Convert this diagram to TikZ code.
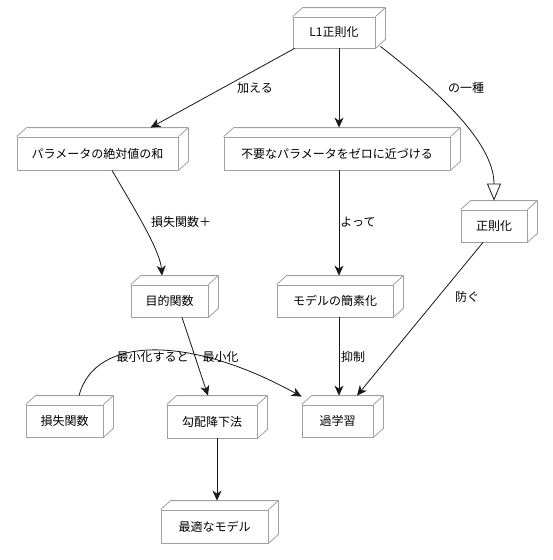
\documentclass[tikz,border=0pt]{standalone}
\usepackage{fontspec}
\setmainfont{Noto Sans CJK JP}
\usetikzlibrary{arrows.meta,calc}
\definecolor{boxgray}{HTML}{A0A0A0}
\definecolor{linec}{HTML}{181818}
\begin{document}
\begin{tikzpicture}[x=1pt,y=-1pt,
  box/.style={draw=boxgray, fill=white, line width=0.8pt, inner sep=0pt, font=\fontsize{12}{14}\selectfont, text=black},
  arr/.style={draw=linec, line width=0.8pt, -{Stealth[length=10pt,width=9pt,inset=3pt]}},
  gen/.style={draw=linec, line width=0.8pt, -{Triangle[open,length=17pt,width=14pt,fill=white]}},
  lbl/.style={font=\fontsize{12}{14}\selectfont, inner sep=1pt, text=black},
  back/.style={draw=boxgray, line width=0.8pt, line join=round}]
\useasboundingbox[fill=white] (0,0) rectangle (552,560);

\node[box, minimum width=82pt, minimum height=31pt] (l1) at (334,32.5) {L1正則化};
\node[box, minimum width=161pt, minimum height=33pt] (param) at (97.5,153.5) {パラメータの絶対値の和};
\node[box, minimum width=226pt, minimum height=33pt] (unneeded) at (337,153.5) {不要なパラメータをゼロに近づける};
\node[box, minimum width=66pt, minimum height=32pt] (reg) at (494,226) {正則化};
\node[box, minimum width=77pt, minimum height=32pt] (obj) at (169.5,301) {目的関数};
\node[box, minimum width=116pt, minimum height=32pt] (simp) at (335,301) {モデルの簡素化};
\node[box, minimum width=77pt, minimum height=32pt] (loss) at (64.5,421) {損失関数};
\node[box, minimum width=90pt, minimum height=33pt] (gd) at (212,421.5) {勾配降下法};
\node[box, minimum width=71pt, minimum height=32pt] (over) at (337.5,421) {過学習};
\node[box, minimum width=107pt, minimum height=33pt] (best) at (214.5,526.5) {最適なモデル};

\foreach \n in {l1,param,unneeded,reg,obj,simp,loss,gd,over,best}{
  \draw[back] (\n.north west) -- ++(10,-9) -- ([shift={(10,-9)}]\n.north east)
    -- ([shift={(10,-9)}]\n.south east) -- (\n.south east)
    (\n.north east) -- ++(10,-9);
}

% connectors
\draw[arr] ([xshift=2pt]l1.south west) -- ([shift={(53,-9)}]param.north);
\draw[arr] ($(unneeded.north |- l1.south)+(2,0)$) -- ([shift={(2,-9)}]unneeded.north);
\draw[gen] ([shift={(5,-2)}]l1.south east) .. controls (430,85) and (494,140) .. ([shift={(0,-9)}]reg.north);
\draw[arr] ([xshift=14.5pt]param.south) .. controls (135,210) and (160,250) .. ([shift={(-7.5,-9)}]obj.north);
\draw[arr] ([xshift=2pt]unneeded.south) -- ([shift={(4,-9)}]simp.north);
\draw[arr] ([xshift=-11pt]reg.south) -- ([shift={(19.5,-9)}]over.north);
\draw[arr] ([xshift=12.5pt]obj.south) -- ([shift={(-4,-9)}]gd.north);
\draw[arr] ([xshift=4pt]simp.south) -- ([shift={(1.5,-9)}]over.north);
\draw[arr] ([shift={(14.5,-9)}]loss.north) .. controls (95,335) and (190,335) .. ([shift={(0,-8)}]over.north west);
\draw[arr] ([xshift=5pt]gd.south) -- ([shift={(2.5,-9)}]best.north);

% labels
\node[lbl] (lb1) at (255,88) {加える};
\node[lbl] (lb2) at (466,88) {の一種};
\node[lbl] (lb3) at (181,222) {損失関数＋};
\node[lbl] (lb4) at (358,222) {よって};
\node[lbl] (lb5) at (467,297) {防ぐ};
\node[lbl] (lb6) at (152.5,357) {最小化すると};
\node[lbl] (lb7) at (220.5,357) {最小化};
\node[lbl] (lb8) at (353,357) {抑制};
\end{tikzpicture}
\end{document}
